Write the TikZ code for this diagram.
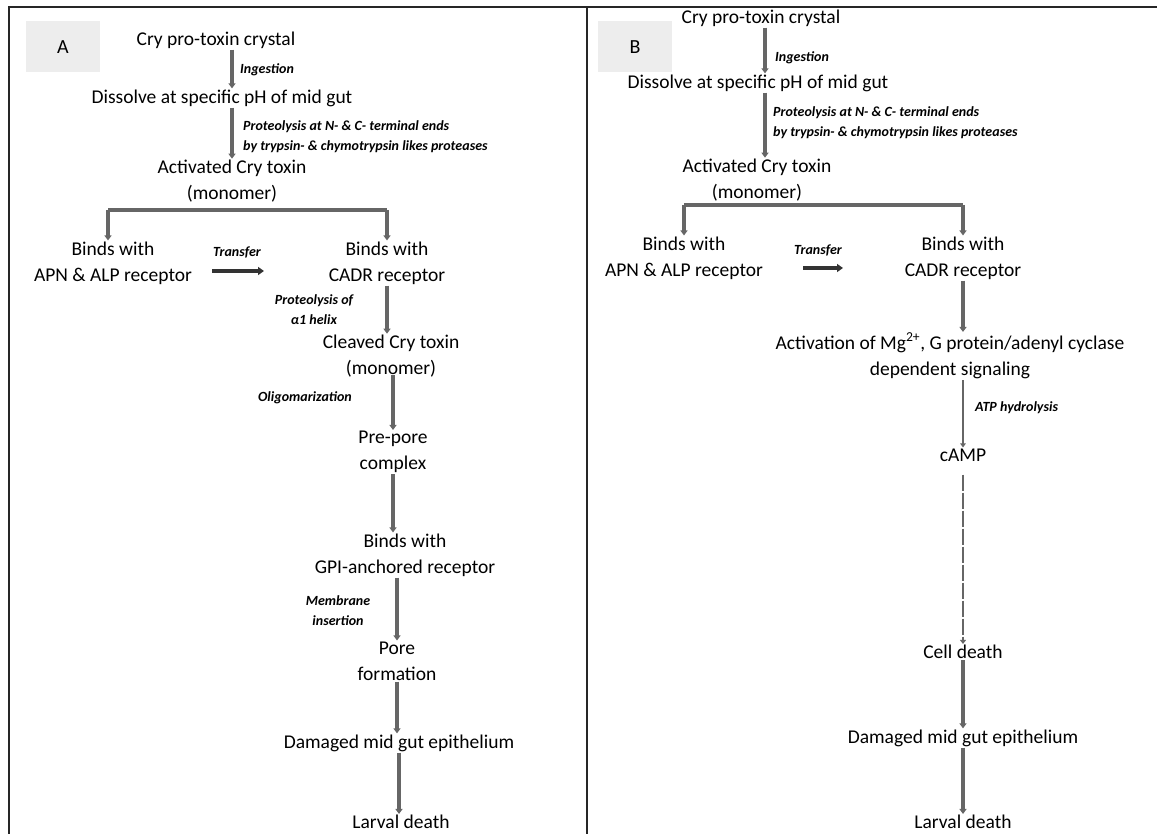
\documentclass[tikz,border=0pt]{standalone}
\usepackage{fontspec}
\setmainfont{Carlito}
\usetikzlibrary{arrows.meta}

\begin{document}
\begin{tikzpicture}
[x=1pt,y=-1pt,
 stage/.style={align=center,font=\fontsize{19.5}{26}\selectfont,inner sep=1pt},
 note/.style={align=left,font=\fontsize{14}{20}\selectfont\bfseries\itshape,inner sep=0pt},
 flow/.style={draw=black!60,line width=3.5pt,-{Triangle[width=7pt,length=5pt]}},
 thin flow/.style={draw=black!60,line width=2.2pt,-{Triangle[width=5.5pt,length=4pt]}},
 dash flow/.style={draw=black!60,line width=2.8pt,dash pattern=on 16pt off 2pt,-{Triangle[width=6pt,length=4pt]}},
 transfer/.style={draw=black!80,line width=4pt,-{Triangle[width=8pt,length=6pt]}},
 bar/.style={draw=black!60,line width=4pt},
 tag/.style={fill=black!7,inner sep=0pt,minimum width=74pt,minimum height=51pt,font=\fontsize{20}{24}\selectfont},
 frame/.style={draw=black!85,line width=2pt}]
\useasboundingbox (0,0) rectangle (1157,834);
\draw[frame] (9,834) -- (9,7) -- (1157,7);
\draw[frame] (587,7) -- (587,834);

% panel A
\node[tag] (tagA) at (63,47) {A};
\node[stage] (cryA) at (216,40) {Cry pro-toxin crystal};
\node[stage] (disA) at (222,98) {Dissolve at specific pH of mid gut};
\node[stage] (actA) at (232,181) {Activated Cry toxin\\(monomer)};
\node[stage] (apnA) at (113,263) {Binds with\\APN \& ALP receptor};
\node[stage] (cadA) at (387,263) {Binds with\\CADR receptor};
\node[stage] (clvA) at (391,356) {Cleaved Cry toxin\\(monomer)};
\node[stage] (preA) at (393,452) {Pre-pore\\complex};
\node[stage] (gpiA) at (405,555) {Binds with\\GPI-anchored receptor};
\node[stage] (porA) at (397,661) {Pore\\formation};
\node[stage] (dmgA) at (399,743) {Damaged mid gut epithelium};
\node[stage] (lrvA) at (401,822) {Larval death};
\node[note,anchor=west] (ingA) at (240,70) {Ingestion};
\node[note,anchor=west] (proA) at (243,137) {Proteolysis at N- \& C- terminal ends\\by trypsin- \& chymotrypsin likes proteases};
\node[note] (trfA) at (237,252) {Transfer};
\node[note,align=center] (helA) at (314,310) {Proteolysis of\\α1 helix};
\node[note] (oliA) at (305,398) {Oligomarization};
\node[note,align=center] (memA) at (338,611) {Membrane\\insertion};
\coordinate (colA) at (232,0);
\coordinate (brA1) at (108,210);
\coordinate (brA2) at (387,210);
\coordinate (tfA1) at (212,271);
\coordinate (tfA2) at (264,271);
\coordinate (olA) at (393,375);
\draw[bar] (brA1) -- (brA2);
\path (cryA.south -| colA) edge[flow] (disA.north -| colA)
      (disA.south -| colA) edge[flow] (actA.north -| colA)
      (brA1) edge[flow] (apnA.north -| brA1)
      (brA2) edge[flow] (cadA.north)
      (tfA1) edge[transfer] (tfA2)
      (cadA.south) edge[flow] (clvA.north -| cadA.south)
      (olA) edge[flow] (preA.north)
      (preA.south) edge[flow] (gpiA.north -| preA.south)
      (gpiA.south -| porA.north) edge[flow] (porA.north)
      (porA.south) edge[flow] (dmgA.north -| porA.south)
      (dmgA.south) edge[flow] (lrvA.north -| dmgA.south);

% panel B
\node[tag] (tagB) at (635,47) {B};
\node[stage] (cryB) at (761,18) {Cry pro-toxin crystal};
\node[stage] (disB) at (758,83) {Dissolve at specific pH of mid gut};
\node[stage] (actB) at (757,180) {Activated Cry toxin\\(monomer)};
\node[stage] (apnB) at (684,258) {Binds with\\APN \& ALP receptor};
\node[stage] (cadB) at (963,258) {Binds with\\CADR receptor};
\node[stage] (sigB) at (950,356) {Activation of Mg\textsuperscript{2+}, G protein/adenyl cyclase\\dependent signaling};
\node[stage] (cmpB) at (963,455) {cAMP};
\node[stage] (celB) at (963,652) {Cell death};
\node[stage] (dmgB) at (963,738) {Damaged mid gut epithelium};
\node[stage] (lrvB) at (963,822) {Larval death};
\node[note,anchor=west] (ingB) at (775,58) {Ingestion};
\node[note,anchor=west] (proB) at (773,123) {Proteolysis at N- \& C- terminal ends\\by trypsin- \& chymotrypsin likes proteases};
\node[note] (trfB) at (818,250) {Transfer};
\node[note,anchor=west] (atpB) at (975,408) {ATP hydrolysis};
\coordinate (colB) at (765,0);
\coordinate (brB1) at (684,205);
\coordinate (brB2) at (963,205);
\coordinate (tfB1) at (803,268);
\coordinate (tfB2) at (843,268);
\draw[bar] (brB1) -- (brB2);
\path (cryB.south -| colB) edge[flow] (disB.north -| colB)
      (disB.south -| colB) edge[flow] (actB.north -| colB)
      (brB1) edge[flow] (apnB.north -| brB1)
      (brB2) edge[flow] (cadB.north)
      (tfB1) edge[transfer] (tfB2)
      (cadB.south) edge[flow] (sigB.north -| cadB.south)
      (sigB.south -| cmpB.north) edge[thin flow] (cmpB.north)
      ([yshift=-12pt]cmpB.south) edge[dash flow] (celB.north)
      (celB.south) edge[flow] (dmgB.north)
      (dmgB.south) edge[flow] (lrvB.north);
\end{tikzpicture}
\end{document}
